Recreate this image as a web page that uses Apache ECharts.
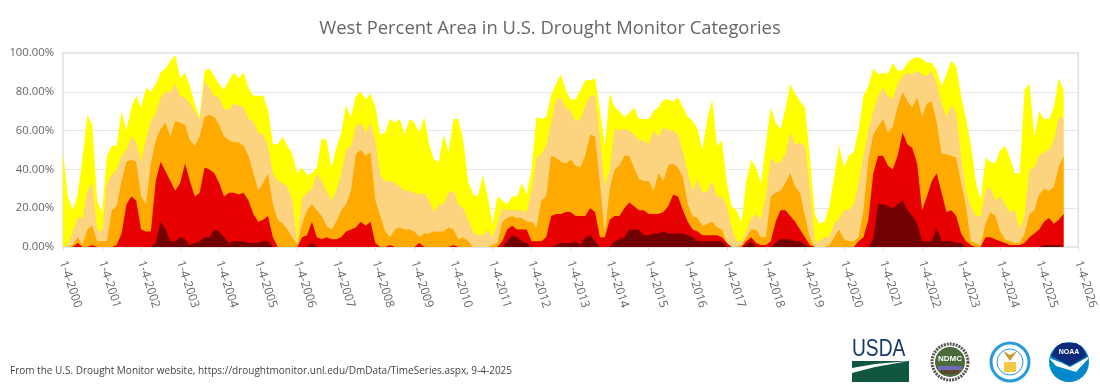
<!DOCTYPE html>
<html>
<head>
<meta charset="utf-8">
<title>West Percent Area in U.S. Drought Monitor Categories</title>
<script src="https://cdn.jsdelivr.net/npm/echarts@6/dist/echarts.min.js"></script>
<style>
html,body{margin:0;padding:0;background:#fff;}
#main{width:1100px;height:392px;}
</style>
</head>
<body>
<div id="main"></div>
<script>
// one reading every 1/8 year, starting 2000.0, one row per year
var d0 = [
	49,26,19,27,46,68,63,24,
	18,47,52,52,70,60,72,78,
	72,82,80,84,90,92,96,99,
	87,90,83,74,67,91,92,88,
	84,81,86,90,87,90,82,78,
	78,78,71,53,53,57,52,48,
	38,41,37,38,41,56,55,41,
	51,59,73,67,78,80,76,79,
	72,58,59,66,64,66,58,66,
	64,59,67,53,45,44,58,49,
	66,66,55,34,27,26,37,26,
	12,26,24,22,26,26,33,27,
	40,67,66,67,78,84,89,81,
	76,76,81,86,86,87,71,52,
	79,72,70,67,69,72,66,66,
	66,70,72,76,76,75,77,72,
	67,65,61,50,66,76,52,55,
	33,21,19,13,34,45,41,33,
	53,72,64,61,71,84,79,75,
	72,47,17,12,13,21,36,52,
	41,47,49,60,78,83,92,89,
	90,89,95,91,91,95,97,98,
	97,95,95,91,83,89,96,93,
	78,66,53,34,24,46,44,43,
	50,52,46,38,38,81,84,57,
	70,66,66,72,87,81
];
var d1 = [
	0,1,8,15,15,29,33,9,
	8,33,37,40,47,50,57,54,
	44,55,65,69,77,80,80,84,
	78,77,74,70,66,86,82,78,
	77,71,71,74,73,72,66,65,
	59,58,52,38,34,33,31,24,
	2,25,28,30,38,34,29,24,
	29,38,50,52,62,64,59,64,
	55,37,34,34,33,31,29,29,
	28,27,28,24,18,22,22,28,
	29,22,20,14,8,6,6,9,
	5,12,20,19,19,19,19,18,
	29,46,48,52,64,76,77,72,
	70,65,66,73,78,78,57,31,
	40,61,60,61,60,58,55,55,
	53,60,57,62,60,60,58,49,
	38,29,35,28,29,34,26,26,
	21,10,3,3,8,15,17,14,
	26,46,43,44,48,59,53,54,
	52,31,3,3,5,5,12,15,
	19,19,22,33,47,60,70,78,
	82,78,76,84,88,90,89,91,
	89,88,91,84,74,67,73,70,
	46,28,21,16,16,29,31,24,
	26,22,18,19,9,16,40,41,
	47,49,50,55,67,66
];
var d2 = [
	0,0,1,5,1,9,11,3,
	3,3,19,21,34,44,45,44,
	26,22,43,55,61,64,57,65,
	64,63,55,52,57,67,68,67,
	63,57,55,54,54,52,47,38,
	29,33,38,22,14,12,9,5,
	1,12,19,22,19,16,11,9,
	13,19,22,29,48,50,47,49,
	24,16,8,5,9,10,9,9,
	8,5,7,7,8,8,8,10,
	9,4,5,3,0,0,0,0,
	1,2,13,15,16,15,15,13,
	13,10,24,26,47,46,44,43,
	45,42,41,47,58,57,33,7,
	30,40,42,47,47,41,35,34,
	34,29,38,34,42,43,41,36,
	22,16,15,11,12,13,10,9,
	2,0,0,1,5,9,9,5,
	5,26,28,29,33,38,31,28,
	16,5,0,0,0,1,5,9,
	4,3,3,5,19,45,58,62,
	66,59,62,72,80,75,72,77,
	67,74,75,64,48,48,47,46,
	33,21,3,2,1,12,18,16,
	8,4,3,2,2,7,17,19,
	27,30,29,31,41,47
];
var d3 = [
	0,0,0,2,0,0,1,0,
	0,0,0,1,7,22,26,24,
	9,8,8,34,44,39,34,29,
	33,43,34,26,28,41,40,38,
	33,26,28,28,27,28,24,17,
	13,14,16,5,0,0,0,0,
	0,5,6,13,5,4,5,4,
	4,5,8,9,10,13,11,13,
	2,0,0,1,0,0,0,0,
	0,2,0,0,0,0,0,0,
	1,0,0,0,0,0,0,0,
	0,0,3,9,11,9,9,9,
	3,3,3,5,16,17,17,18,
	18,16,16,16,20,18,5,5,
	14,16,16,20,23,21,19,19,
	17,17,17,18,21,27,26,19,
	13,9,8,6,6,6,6,5,
	2,0,0,0,3,5,2,1,
	1,3,13,19,19,16,13,9,
	5,1,0,0,0,0,0,0,
	0,0,0,3,5,14,38,47,
	47,42,40,47,59,53,51,43,
	19,26,34,38,28,18,19,16,
	7,3,1,0,0,5,5,4,
	3,2,1,1,1,2,5,7,
	9,13,15,12,14,17
];
var d4 = [
	0,0,0,0,0,0,0,0,
	0,0,0,0,0,0,0,0,
	0,0,0,2,13,9,3,3,
	5,4,1,2,3,5,5,9,
	8,5,2,3,3,3,2,2,
	2,3,3,0,0,0,0,0,
	0,0,0,2,0,0,0,0,
	0,0,0,0,0,0,0,0,
	0,0,0,0,0,0,0,0,
	0,0,0,0,0,0,0,0,
	0,0,0,0,0,0,0,0,
	0,0,0,3,6,5,3,2,
	0,0,0,0,0,1,2,2,
	2,3,1,5,6,3,0,0,
	0,3,4,5,9,9,9,6,
	6,7,7,8,7,7,7,7,
	6,5,3,3,3,3,3,3,
	0,0,0,0,1,3,0,0,
	0,0,2,4,4,4,3,3,
	1,0,0,0,0,0,0,0,
	0,0,0,0,0,0,4,22,
	22,21,20,22,24,19,16,12,
	3,3,3,10,3,3,3,2,
	2,0,0,0,0,0,0,0,
	0,0,0,0,0,0,0,0,
	0,1,1,1,1,1
];
var seriesNames = ['D0', 'D1', 'D2', 'D3', 'D4'];
var seriesColors = ['#ffff00', '#fcd37f', '#ffaa00', '#e60000', '#730000'];
var startYear = 2000;
var endYear = 2026;
var stepsPerYear = 8;
var tickPrefix = '1-4-';
var titleText = 'West Percent Area in U.S. Drought Monitor Categories';
var sourceText = 'From the U.S. Drought Monitor website, https://droughtmonitor.unl.edu/DmData/TimeSeries.aspx, 9-4-2025';

var toPairs = function (arr) {
	return arr.map(function (v, i) {
		return [startYear + i / stepsPerYear, v];
	});
};

var fontName = '"Open Sans", "Noto Sans", sans-serif';

// logos, drawn roughly
var logos = [
	// USDA
	{type: 'text', x: 852, y: 337, scaleX: 0.8, style: {text: 'USDA', fill: '#14386f', font: '24px "Liberation Sans"'}},
	{type: 'rect', shape: {x: 852, y: 361, width: 57, height: 21}, style: {fill: '#115740'}},
	{type: 'polygon', shape: {points: [[852, 368], [875, 364], [909, 361], [875, 367], [852, 373]]}, style: {fill: '#fff'}},
	// NDMC
	{type: 'circle', shape: {cx: 950, cy: 362, r: 18}, style: {fill: '#fff', stroke: '#555', lineWidth: 3, lineDash: [2, 1]}},
	{type: 'circle', shape: {cx: 950, cy: 362, r: 15}, style: {fill: '#4b6b3c'}},
	{type: 'text', x: 950, y: 359, style: {text: 'NDMC', fill: '#fff', font: 'bold 8px "Liberation Sans"', align: 'center', verticalAlign: 'middle'}},
	{type: 'rect', shape: {x: 938, y: 366, width: 24, height: 4}, style: {fill: '#6f6bb5'}},
	{type: 'rect', shape: {x: 941, y: 370, width: 18, height: 4}, style: {fill: '#5e4630'}},
	// commerce seal
	{type: 'circle', shape: {cx: 1010, cy: 362, r: 19}, style: {fill: '#fff', stroke: '#2a9bd8', lineWidth: 3}},
	{type: 'circle', shape: {cx: 1010, cy: 362, r: 13}, style: {fill: '#fff', stroke: '#2a9bd8', lineWidth: 1}},
	{type: 'rect', shape: {x: 1004, y: 362, width: 12, height: 10}, style: {fill: '#f5c945'}},
	{type: 'polygon', shape: {points: [[1003, 351], [1010, 361], [1017, 351], [1010, 355]]}, style: {fill: '#c99a2e'}},
	// NOAA
	{type: 'circle', shape: {cx: 1069, cy: 362, r: 20}, style: {fill: '#0088c8'}},
	{type: 'polygon', shape: {points: [[1056, 347], [1062, 343], [1076, 343], [1082, 347], [1087, 356], [1070, 366], [1051, 356]]}, style: {fill: '#0b2a7a'}},
	{type: 'polygon', shape: {points: [[1049, 358], [1062, 363], [1070, 367], [1088, 357], [1088, 359], [1076, 372], [1066, 369], [1056, 366]]}, style: {fill: '#fff'}},
	{type: 'text', x: 1069, y: 352, style: {text: 'NOAA', fill: '#fff', font: 'bold 7px "Liberation Sans"', align: 'center', verticalAlign: 'middle'}}
];

var chart = echarts.init(document.getElementById('main'), null, {renderer: 'canvas'});
chart.setOption({
	animation: false,
	title: {
		text: titleText,
		left: 'center',
		top: 15,
		textStyle: {
			color: '#666',
			fontFamily: fontName,
			fontSize: 18.4,
			fontWeight: 'normal'
		}
	},
	grid: {
		left: 63,
		right: 20,
		top: 53,
		bottom: 145,
		show: true,
		borderColor: '#e6e6e6',
		borderWidth: 2
	},
	xAxis: {
		type: 'value',
		min: startYear,
		max: endYear,
		interval: 1,
		splitLine: {show: false},
		axisLine: {show: false},
		axisTick: {show: true, length: 4, lineStyle: {color: '#e0e0e0'}},
		axisLabel: {
			rotate: -72,
			margin: 14,
			color: '#666',
			fontFamily: fontName,
			fontSize: 12,
			formatter: function (v) {
				return tickPrefix + v;
			}
		}
	},
	yAxis: {
		type: 'value',
		min: 0,
		max: 100,
		interval: 20,
		axisLine: {show: false},
		axisTick: {show: false},
		splitLine: {lineStyle: {color: '#e6e6e6', width: 1}},
		axisLabel: {
			margin: 9,
			padding: [3, 0, 0, 0],
			color: '#666',
			fontFamily: fontName,
			fontSize: 11.3,
			formatter: function (v) {
				return v.toFixed(2) + '%';
			}
		}
	},
	series: [d0, d1, d2, d3, d4].map(function (arr, i) {
		return {
			name: seriesNames[i],
			type: 'line',
			data: toPairs(arr),
			showSymbol: false,
			z: i + 2,
			lineStyle: {width: 0},
			areaStyle: {color: seriesColors[i], opacity: 1}
		};
	}),
	graphic: [
		{type: 'text', left: 10, top: 366, style: {text: sourceText, fill: '#444', font: '10px ' + fontName}}
	].concat(logos)
});
</script>
</body>
</html>
